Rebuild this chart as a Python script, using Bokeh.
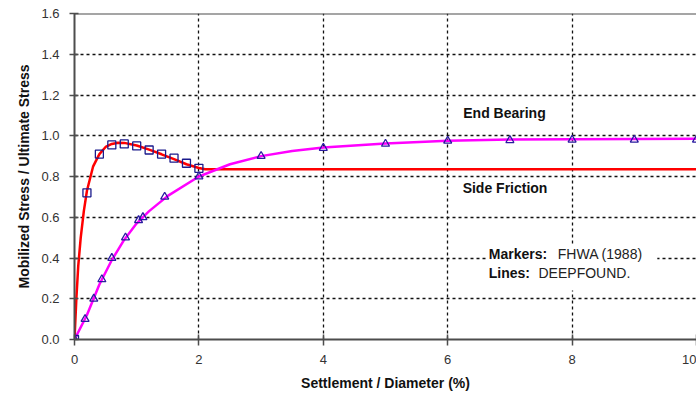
from bokeh.plotting import figure
from bokeh.models import FixedTicker, NumeralTickFormatter, Range1d, Span
from bokeh.core.properties import value
from bokeh.embed import file_html
from bokeh.resources import INLINE

# Side friction (FHWA markers)
sf_x = [0.0, 0.2, 0.4, 0.6, 0.8, 1.0, 1.2, 1.4, 1.6, 1.8, 2.0]
sf_y = [0.0, 0.72, 0.91, 0.955, 0.96, 0.95, 0.93, 0.91, 0.89, 0.865, 0.84]

# Side friction (DEEPFOUND line)
sfl_x = [0.0, 0.03, 0.06, 0.1, 0.15, 0.2, 0.3, 0.4, 0.5, 0.6, 0.7, 0.8, 1.0, 1.2, 1.4, 1.6, 1.8, 2.0, 2.1, 10.0]
sfl_y = [0.0, 0.2, 0.36, 0.5, 0.63, 0.73, 0.85, 0.91, 0.945, 0.96, 0.966, 0.965, 0.952, 0.932, 0.909, 0.885, 0.86, 0.842, 0.836, 0.836]

# End bearing (FHWA markers)
eb_x = [0.0, 0.17, 0.31, 0.44, 0.6, 0.82, 1.03, 1.1, 1.45, 2.0, 3.0, 4.0, 5.0, 6.0, 7.0, 8.0, 9.0, 10.0]
eb_y = [0.0, 0.1, 0.2, 0.295, 0.4, 0.5, 0.585, 0.6, 0.7, 0.8, 0.9, 0.94, 0.96, 0.975, 0.978, 0.98, 0.98, 0.98]

# End bearing (DEEPFOUND line)
ebl_x = [0.0, 0.2, 0.4, 0.6, 0.8, 1.0, 1.2, 1.5, 2.0, 2.5, 3.0, 3.5, 4.0, 5.0, 6.0, 7.0, 8.0, 10.0]
ebl_y = [0.0, 0.12, 0.27, 0.39, 0.49, 0.57, 0.63, 0.705, 0.8, 0.86, 0.9, 0.925, 0.942, 0.962, 0.975, 0.981, 0.983, 0.985]

x_ticks = [0, 2, 4, 6, 8, 10]
y_ticks = [0.0, 0.2, 0.4, 0.6, 0.8, 1.0, 1.2, 1.4, 1.6]

FONT = "Liberation Sans"
AXIS_COLOR = "#4d4d4d"

p = figure(width=696, height=396, output_backend="svg", toolbar_location=None,
           x_range=Range1d(0, 10), y_range=Range1d(0, 1.6),
           min_border_left=74, min_border_right=0, min_border_top=13, min_border_bottom=57)
p.outline_line_color = None
p.background_fill_color = "white"
p.border_fill_color = "white"

for ax in (p.xaxis[0], p.yaxis[0]):
    ax.axis_line_color = AXIS_COLOR
    ax.axis_line_width = 2
    ax.major_tick_line_color = AXIS_COLOR
    ax.major_tick_line_width = 1.5
    ax.minor_tick_line_color = None
    ax.major_label_text_font = FONT
    ax.major_label_text_font_size = "13px"
    ax.major_label_text_color = "#333333"
    ax.axis_label_text_font = FONT
    ax.axis_label_text_font_style = "bold"
    ax.axis_label_text_font_size = "14px"
    ax.axis_label_text_color = "#111111"

p.xaxis.ticker = FixedTicker(ticks=x_ticks)
p.yaxis.ticker = FixedTicker(ticks=y_ticks)
p.yaxis.formatter = NumeralTickFormatter(format="0.0")
p.xaxis.major_tick_in = 5
p.xaxis.major_tick_out = 6
p.yaxis.major_tick_in = 4
p.yaxis.major_tick_out = 5
p.xaxis.major_label_standoff = 9
p.yaxis.major_label_standoff = 10
p.xaxis.axis_label = "Settlement / Diameter (%)"
p.yaxis.axis_label = "Mobilized Stress / Ultimate Stress"
p.xaxis.axis_label_standoff = 8
p.yaxis.axis_label_standoff = 6

p.xgrid.ticker = FixedTicker(ticks=[2, 4, 6, 8])
p.ygrid.ticker = FixedTicker(ticks=[0.2, 0.4, 0.6, 0.8, 1.0, 1.2, 1.4])
for g in (p.xgrid[0], p.ygrid[0]):
    g.grid_line_color = "#111111"
    g.grid_line_dash = "3 3"
    g.grid_line_width = 1.3

# solid top border of the plot area
p.add_layout(Span(location=1.6, dimension="width", line_color=AXIS_COLOR, line_width=2))

# white box behind the source note
p.quad(left=[6.64], right=[9.37], bottom=[0.24], top=[0.461],
       fill_color="white", line_color=None)

p.line(sfl_x, sfl_y, line_color="#FF0000", line_width=2.5)
p.line(ebl_x, ebl_y, line_color="#FF00FF", line_width=2.5)

p.scatter(sf_x, sf_y, marker="square", size=8, fill_color=None,
          line_color="#1a1a8c", line_width=1.3)
p.scatter(eb_x, eb_y, marker="triangle", size=8, fill_color=None,
          line_color="#2a1aa0", line_width=1.3)

p.text([6.25], [1.114], text=["End Bearing"], text_font=value(FONT), text_font_style="bold",
       text_font_size="14px", text_baseline="middle", text_align="left", text_color="#111111")
p.text([6.24], [0.746], text=["Side Friction"], text_font=value(FONT), text_font_style="bold",
       text_font_size="14px", text_baseline="middle", text_align="left", text_color="#111111")
p.text([6.66], [0.422], text=["Markers:"], text_font=value(FONT), text_font_style="bold",
       text_font_size="14px", text_baseline="middle", text_align="left", text_color="#111111")
p.text([7.77], [0.422], text=["FHWA (1988)"], text_font=value(FONT),
       text_font_size="14px", text_baseline="middle", text_align="left", text_color="#222222")
p.text([6.66], [0.324], text=["Lines:"], text_font=value(FONT), text_font_style="bold",
       text_font_size="14px", text_baseline="middle", text_align="left", text_color="#111111")
p.text([7.46], [0.324], text=["DEEPFOUND."], text_font=value(FONT),
       text_font_size="14px", text_baseline="middle", text_align="left", text_color="#222222")

open("out.html", "w").write(file_html(p, INLINE))
